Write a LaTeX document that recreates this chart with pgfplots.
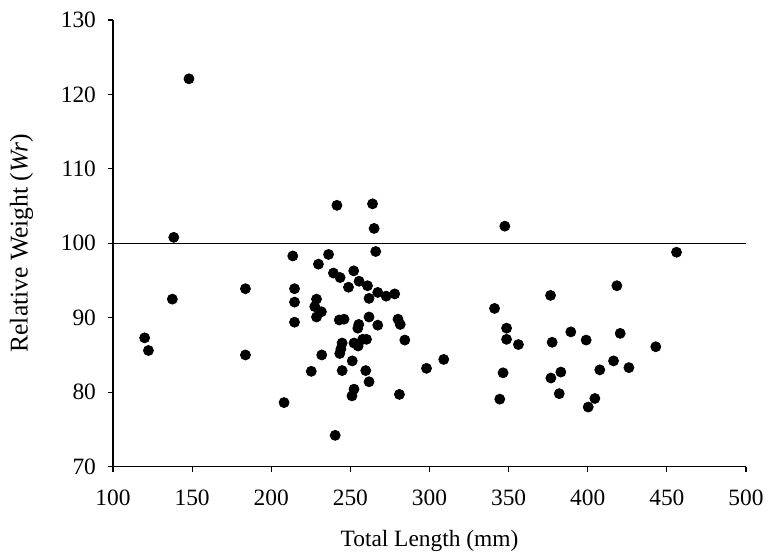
\documentclass[border=0pt]{standalone}
\usepackage{fontspec}
\setmainfont{Liberation Serif}
\usepackage{pgfplots}
\pgfplotsset{compat=1.18}
\usepackage{pgfplotstable}
\usetikzlibrary{calc}

\pgfplotstableread{
x y
120.0 87.3
122.4 85.6
137.5 92.5
138.4 100.8
148.0 122.1
183.7 93.9
183.7 85.0
208.1 78.6
213.6 98.3
214.7 93.9
214.7 92.1
214.7 89.4
225.3 82.8
228.6 92.5
227.5 91.5
231.7 90.8
228.6 90.1
229.8 97.2
231.9 85.0
236.2 98.5
239.3 96.0
243.5 95.4
241.5 105.1
240.4 74.2
243.0 89.7
246.0 89.8
244.8 86.6
244.0 85.8
243.3 85.2
244.8 82.9
248.8 94.1
252.1 96.3
251.2 84.2
252.3 80.4
251.0 79.5
252.3 86.6
254.9 86.2
255.5 94.9
255.3 89.1
254.7 88.6
257.8 87.1
260.2 87.1
259.7 82.9
261.8 81.4
260.8 94.3
261.8 92.6
261.8 90.1
264.0 105.3
265.0 102.0
266.0 98.9
267.3 93.4
267.3 89.0
272.6 92.9
278.0 93.2
280.1 89.8
281.5 89.1
281.0 79.7
284.4 87.0
298.1 83.2
309.0 84.4
341.1 91.25
344.4 79.06
346.5 82.6
347.6 102.3
348.7 88.6
348.7 87.1
356.2 86.4
376.5 93.0
376.7 81.9
377.5 86.7
382.0 79.8
383.0 82.7
389.3 88.1
399.0 87.0
400.3 78.0
404.5 79.15
407.6 83.0
416.3 84.2
418.4 94.3
420.5 87.9
426.0 83.3
443.0 86.1
456.1 98.8
}\fishdata

\begin{document}
\begin{tikzpicture}
\begin{axis}[
  name=ax,
  scale only axis,
  width=316.5pt, height=223.3pt,
  xmin=100, xmax=500, ymin=70, ymax=130,
  xtick={100,150,...,500}, ytick={70,80,...,130},
  axis x line=bottom, axis y line=left,
  axis line style={-, line width=0.6pt},
  tick align=outside, major tick length=2.5pt,
  tick style={black, line width=0.6pt},
  /pgf/number format/assume math mode=true,
  /pgf/number format/1000 sep={},
  tick label style={font=\fontsize{11.7}{14}\selectfont},
  label style={font=\fontsize{11.7}{14}\selectfont},
  xticklabel style={yshift=-5.5pt},
  yticklabel style={xshift=-2.5pt},
  xlabel={Total Length (mm)},
  ylabel={Relative Weight (\textit{Wr})},
  xlabel style={yshift=-5.5pt},
  ylabel style={yshift=7pt, font=\fontsize{12.8}{15}\selectfont},
  clip=false,
]
\addplot[black, line width=0.6pt] coordinates {(100,100) (500,100)};
\addplot[only marks, mark=*, mark size=2.5pt, black] table {\fishdata};
\end{axis}
\pgfresetboundingbox
\path (ax.south west) ++(-56.5pt,-42.75pt) rectangle ($(ax.north east)+(10pt,10pt)$);
\end{tikzpicture}
\end{document}
